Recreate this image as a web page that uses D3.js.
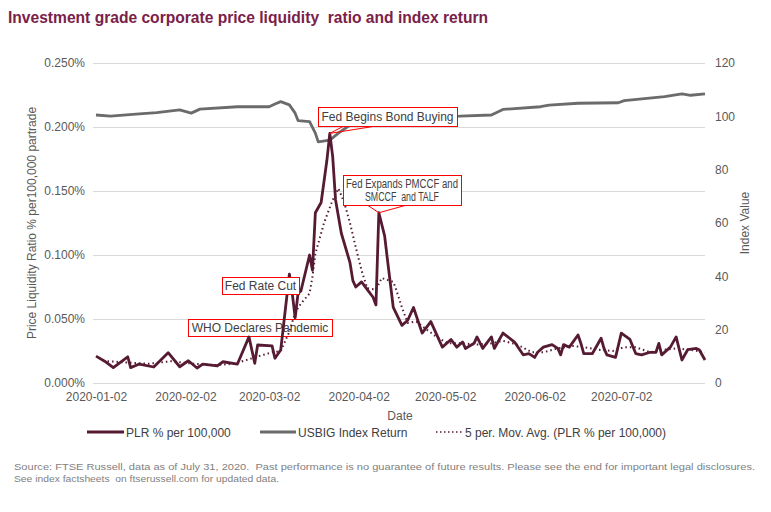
<!DOCTYPE html>
<html><head><meta charset="utf-8">
<script src="https://cdn.jsdelivr.net/npm/d3@7/dist/d3.min.js"></script>
<style>
body{margin:0;background:#fff;}
svg{display:block;font-family:"Liberation Sans",Arial,sans-serif;}
svg text{white-space:pre;}
</style></head><body>
<svg id="chart" width="771" height="512"></svg>
<script>
// ---- data ----
const titleText = "Investment grade corporate price liquidity  ratio and index return";
const xTickLabels = ["2020-01-02","2020-02-02","2020-03-02","2020-04-02","2020-05-02","2020-06-02","2020-07-02"];
const leftTicks = [0, 0.05, 0.10, 0.15, 0.20, 0.25];
const rightTicks = [0, 20, 40, 60, 80, 100, 120];
const seriesNames = ["PLR % per 100,000", "USBIG Index Return", "5 per. Mov. Avg. (PLR % per 100,000)"];

// PLR % per 100,000 (values in percent)
const plrSeries = [
 ["2020-01-02",0.021],["2020-01-05",0.017],["2020-01-08",0.012],["2020-01-13",0.0205],["2020-01-14",0.012],
 ["2020-01-17",0.0148],["2020-01-22",0.0125],["2020-01-27",0.0237],["2020-01-31",0.0127],["2020-02-03",0.0174],
 ["2020-02-06",0.0117],["2020-02-08",0.0148],["2020-02-13",0.0133],["2020-02-15",0.0166],["2020-02-20",0.0148],
 ["2020-02-24",0.036],["2020-02-26",0.0154],["2020-02-27",0.0297],["2020-03-03",0.029],["2020-03-04",0.0193],
 ["2020-03-06",0.0258],["2020-03-09",0.085],["2020-03-10",0.070],["2020-03-11",0.051],["2020-03-12",0.070],
 ["2020-03-13",0.072],["2020-03-16",0.100],["2020-03-17",0.088],["2020-03-18",0.133],["2020-03-20",0.141],
 ["2020-03-22",0.174],["2020-03-23",0.195],["2020-03-24",0.177],["2020-03-25",0.143],["2020-03-27",0.117],
 ["2020-03-30",0.094],["2020-03-31",0.080],["2020-04-01",0.075],["2020-04-03",0.079],["2020-04-05",0.073],
 ["2020-04-07",0.067],["2020-04-08",0.061],["2020-04-09",0.133],["2020-04-11",0.115],["2020-04-12",0.096],
 ["2020-04-14",0.059],["2020-04-17",0.045],["2020-04-19",0.049],["2020-04-21",0.059],["2020-04-24",0.039],
 ["2020-04-27",0.048],["2020-05-01",0.028],["2020-05-04",0.034],["2020-05-06",0.028],["2020-05-08",0.032],
 ["2020-05-09",0.027],["2020-05-12",0.031],["2020-05-13",0.036],["2020-05-15",0.027],["2020-05-18",0.036],
 ["2020-05-19",0.027],["2020-05-22",0.039],["2020-05-26",0.032],["2020-05-29",0.022],["2020-05-31",0.023],
 ["2020-06-02",0.020],["2020-06-03",0.024],["2020-06-05",0.028],["2020-06-08",0.030],["2020-06-10",0.027],
 ["2020-06-11",0.022],["2020-06-12",0.030],["2020-06-14",0.028],["2020-06-17",0.0375],["2020-06-18",0.031],
 ["2020-06-19",0.023],["2020-06-22",0.023],["2020-06-25",0.035],["2020-06-26",0.027],["2020-06-27",0.022],
 ["2020-06-30",0.020],["2020-07-02",0.039],["2020-07-05",0.034],["2020-07-07",0.023],["2020-07-09",0.022],
 ["2020-07-12",0.024],["2020-07-14",0.024],["2020-07-15",0.031],["2020-07-16",0.022],["2020-07-19",0.028],
 ["2020-07-21",0.036],["2020-07-23",0.018],["2020-07-25",0.026],["2020-07-28",0.027],["2020-07-29",0.026],
 ["2020-07-31",0.018]
];

// 5-period moving average of PLR
const maSeries = [
 ["2020-01-06",0.017],["2020-01-13",0.016],["2020-01-20",0.015],["2020-01-28",0.017],["2020-02-05",0.015],
 ["2020-02-12",0.014],["2020-02-19",0.015],["2020-02-26",0.020],["2020-03-03",0.024],["2020-03-06",0.025],
 ["2020-03-09",0.040],["2020-03-11",0.055],["2020-03-13",0.062],["2020-03-16",0.070],["2020-03-17",0.083],
 ["2020-03-18",0.101],["2020-03-21",0.125],["2020-03-24",0.143],["2020-03-26",0.152],["2020-03-28",0.141],
 ["2020-03-30",0.125],["2020-04-01",0.106],["2020-04-03",0.088],["2020-04-05",0.074],["2020-04-08",0.073],
 ["2020-04-10",0.082],["2020-04-14",0.079],["2020-04-15",0.073],["2020-04-17",0.059],["2020-04-19",0.047],
 ["2020-04-22",0.048],["2020-04-26",0.041],["2020-04-29",0.036],["2020-05-03",0.031],["2020-05-08",0.031],
 ["2020-05-13",0.030],["2020-05-18",0.031],["2020-05-22",0.033],["2020-05-27",0.030],["2020-06-01",0.024],
 ["2020-06-05",0.024],["2020-06-10",0.027],["2020-06-15",0.029],["2020-06-19",0.028],["2020-06-24",0.026],
 ["2020-06-29",0.025],["2020-07-03",0.028],["2020-07-07",0.028],["2020-07-12",0.024],["2020-07-17",0.026],
 ["2020-07-21",0.027],["2020-07-26",0.026],["2020-07-31",0.024]
];

// USBIG index return (index value)
const indexSeries = [
 ["2020-01-02",100.5],["2020-01-07",100.1],["2020-01-17",100.9],["2020-01-23",101.4],["2020-01-31",102.4],
 ["2020-02-04",101.2],["2020-02-07",102.7],["2020-02-20",103.6],["2020-03-02",103.6],["2020-03-04",104.6],
 ["2020-03-06",105.5],["2020-03-09",104.3],["2020-03-11",101.2],["2020-03-12",98.4],["2020-03-16",98.0],
 ["2020-03-18",93.7],["2020-03-19",90.4],["2020-03-23",91.1],["2020-03-26",93.7],["2020-03-31",97.5],
 ["2020-04-06",99.5],["2020-04-20",100.0],["2020-05-07",100.1],["2020-05-18",100.5],["2020-05-22",102.6],
 ["2020-06-04",103.6],["2020-06-07",104.2],["2020-06-17",104.9],["2020-07-01",105.1],["2020-07-03",105.9],
 ["2020-07-17",107.4],["2020-07-23",108.4],["2020-07-26",107.9],["2020-07-31",108.4]
];

// annotations
const annotations = [
 {lines:["Fed Begins Bond Buying"], date:"2020-03-23", value:0.195},
 {lines:["Fed Expands PMCCF and","SMCCF  and TALF"], date:"2020-04-09", value:0.133},
 {lines:["Fed Rate Cut"], date:"2020-03-10", value:0.070},
 {lines:["WHO Declares Pandemic"], date:"2020-03-11", value:0.051}
];
const sourceLines = [
 "Source: FTSE Russell, data as of July 31, 2020.  Past performance is no guarantee of future results. Please see the end for important legal disclosures.",
 "See index factsheets  on ftserussell.com for updated data."
];

// ---- drawing ----
const parse = d3.timeParse("%Y-%m-%d");
const svg = d3.select("#chart");
const plot = {left:95, right:705, top:63, bottom:383};
const x = d3.scaleTime().domain([parse("2020-01-02"), parse("2020-07-31")]).range([plot.left+1, plot.right]);
const yL = d3.scaleLinear().domain([0,0.25]).range([plot.bottom, plot.top]);
const yR = d3.scaleLinear().domain([0,120]).range([plot.bottom, plot.top]);
const textCol = "#595959";
const plrCol = "#561b33", idxCol = "#6b6b6d";

svg.append("text").attr("x",8).attr("y",23).attr("font-size",16).attr("font-weight","bold")
  .attr("fill","#7a2149").attr("textLength",480).attr("lengthAdjust","spacingAndGlyphs").text(titleText);

// gridlines
svg.append("g").selectAll("line").data(leftTicks).join("line")
  .attr("x1",plot.left-2).attr("x2",plot.right).attr("y1",d=>yL(d)).attr("y2",d=>yL(d))
  .attr("stroke","#d9d9d9").attr("stroke-width",1).attr("shape-rendering","crispEdges");

// left axis
const gL = svg.append("g").attr("transform",`translate(${plot.left-10},0)`)
  .call(d3.axisLeft(yL).tickValues(leftTicks).tickSize(0).tickPadding(0).tickFormat(d=>d.toFixed(3)+"%"));
gL.select(".domain").remove();
gL.selectAll("text").attr("font-size",12).attr("fill",textCol).attr("font-family","Liberation Sans, Arial");

// right axis
const gR = svg.append("g").attr("transform",`translate(${plot.right+10},0)`)
  .call(d3.axisRight(yR).tickValues(rightTicks).tickSize(0).tickPadding(0));
gR.select(".domain").remove();
gR.selectAll("text").attr("font-size",12).attr("fill",textCol).attr("font-family","Liberation Sans, Arial");

// x axis
const gX = svg.append("g").attr("transform",`translate(0,${plot.bottom})`)
  .call(d3.axisBottom(x).tickValues(xTickLabels.map(parse)).tickSize(0).tickPadding(9).tickFormat(d3.timeFormat("%Y-%m-%d")));
gX.select(".domain").remove();
gX.selectAll("text").attr("font-size",12).attr("fill",textCol).attr("font-family","Liberation Sans, Arial");

// axis titles
svg.append("text").attr("x",400).attr("y",420).attr("text-anchor","middle").attr("font-size",12).attr("fill",textCol).text("Date");
svg.append("text").attr("transform",`translate(36,${(plot.top+plot.bottom)/2}) rotate(-90)`).attr("text-anchor","middle")
  .attr("font-size",12).attr("fill",textCol).text("Price Liquidity Ratio % per100,000 partrade");
svg.append("text").attr("transform",`translate(749,${(plot.top+plot.bottom)/2}) rotate(-90)`).attr("text-anchor","middle")
  .attr("font-size",12).attr("fill",textCol).text("Index Value");

function box(a, x0, y0, x1, y1, fs, lens){
  const g = svg.append("g");
  g.append("rect").attr("x",x0+0.5).attr("y",y0+0.5).attr("width",x1-x0).attr("height",y1-y0)
    .attr("fill","#fff").attr("stroke","#ff0000").attr("stroke-width",1);
  const cx=(x0+x1)/2, lh=13.5, n=a.lines.length;
  a.lines.forEach((t,i)=>{
    const tx = g.append("text").attr("x",cx).attr("y",(y0+y1)/2+(i-(n-1)/2)*lh+4.5)
      .attr("text-anchor","middle").attr("font-size",fs||12).attr("fill","#404040").text(t);
    if(lens) tx.attr("textLength",lens[i]).attr("lengthAdjust","spacingAndGlyphs");
  });
  return g;
}

// box below the lines
box(annotations[3], 188, 319, 332, 336);

const lineGen = (yScale)=>d3.line().x(d=>x(parse(d[0]))).y(d=>yScale(d[1]));
svg.append("path").datum(indexSeries).attr("d",lineGen(yR)).attr("fill","none").attr("stroke",idxCol).attr("stroke-width",2.8).attr("stroke-linejoin","round");
svg.append("path").datum(plrSeries).attr("d",lineGen(yL)).attr("fill","none").attr("stroke",plrCol).attr("stroke-width",2.8).attr("stroke-linejoin","round");
svg.append("path").datum(maSeries).attr("d",lineGen(yL)).attr("fill","none").attr("stroke",plrCol).attr("stroke-width",2).attr("stroke-dasharray","1.5,3");

// boxes above the lines, with callout pointers
box(annotations[2], 222, 277, 299, 294);
const a0 = annotations[0], p0=[x(parse(a0.date)), yL(a0.value)];
box(a0, 318, 107, 457, 126);
svg.append("path").attr("d",`M343,126.5L${p0[0]},${p0[1]}L373,126.5`).attr("fill","none").attr("stroke","#ff0000").attr("stroke-width",1);
const a1 = annotations[1], p1=[x(parse(a1.date)), yL(a1.value)];
box(a1, 343, 175, 461, 205, 12, [112, 74]);
svg.append("path").attr("d",`M368,205.5L${p1[0]},${p1[1]}L405,205.5`).attr("fill","none").attr("stroke","#ff0000").attr("stroke-width",1);

// legend
const lg = svg.append("g");
const legendItems = [
  {name:seriesNames[0], x0:87, x1:124, col:plrCol, w:3, dash:null},
  {name:seriesNames[1], x0:260, x1:296, col:idxCol, w:3, dash:null},
  {name:seriesNames[2], x0:436, x1:463, col:plrCol, w:1.6, dash:"1.5,2.5"}
];
legendItems.forEach(it=>{
  lg.append("line").attr("x1",it.x0).attr("x2",it.x1).attr("y1",432).attr("y2",432)
    .attr("stroke",it.col).attr("stroke-width",it.w).attr("stroke-dasharray",it.dash);
  lg.append("text").attr("x",it.x1+2).attr("y",436.5).attr("font-size",12).attr("fill","#404040").text(it.name);
});

// source
svg.append("text").attr("x",14).attr("y",470).attr("font-size",9).attr("fill","#7f7f7f")
  .attr("textLength",741).attr("lengthAdjust","spacingAndGlyphs").text(sourceLines[0]);
svg.append("text").attr("x",14).attr("y",482).attr("font-size",9).attr("fill","#7f7f7f")
  .attr("textLength",265).attr("lengthAdjust","spacingAndGlyphs").text(sourceLines[1]);
</script>
</body></html>
